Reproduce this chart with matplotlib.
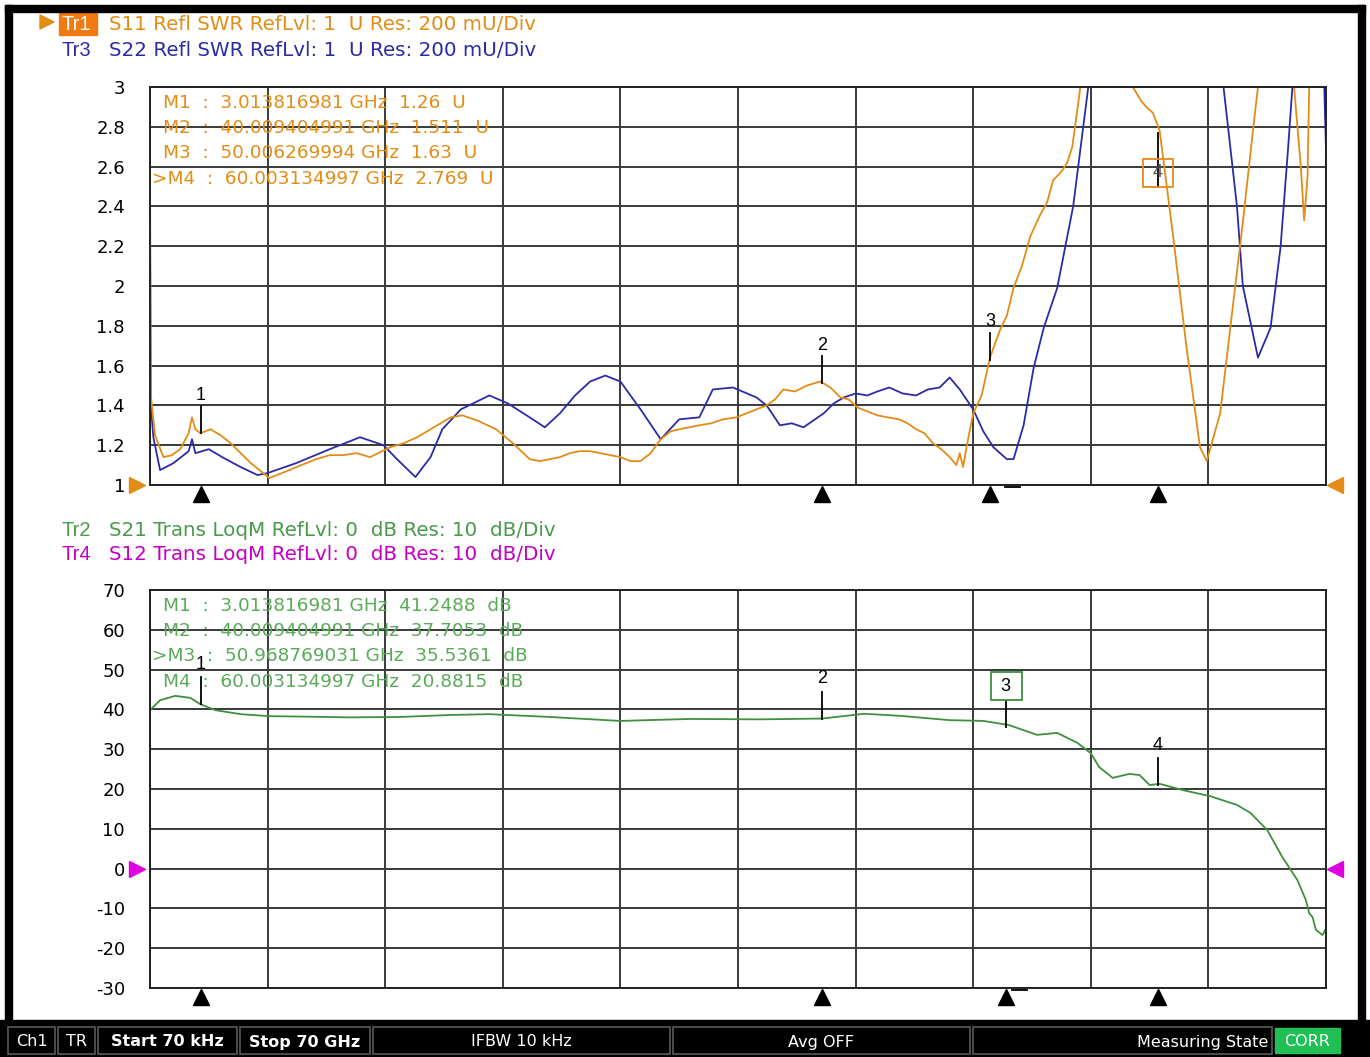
import matplotlib
matplotlib.use('Agg')
import matplotlib.pyplot as plt
from matplotlib.patches import Rectangle, Polygon

s11_freq = [0.0, 0.05, 0.3, 0.8, 1.3, 1.8, 2.3, 2.5, 2.7, 3.0, 3.6, 4.2, 4.8, 5.4, 6.0, 7.1, 8.3,
            9.0, 9.9, 10.7, 11.5, 12.3, 13.1, 14.3, 15.1, 15.9, 16.9, 17.9, 18.6, 19.6, 20.6,
            21.6, 22.6, 23.2, 23.8, 24.4, 25.0, 25.6, 26.2, 26.8, 27.4, 28.0, 28.6, 29.2, 29.8,
            30.4, 31.0, 31.5, 32.1, 32.7, 33.4, 34.1, 34.9, 35.8, 36.7, 37.2, 37.7, 38.4, 39.1,
            39.9, 40.5, 41.1, 41.6, 42.1, 42.7, 43.3, 43.9, 44.6, 45.1, 45.6, 46.1, 46.6, 47.1,
            47.6, 48.0, 48.2, 48.4, 48.6, 49.0, 49.5, 50.0, 50.6, 51.0, 51.4, 51.9, 52.4, 53.0,
            53.4, 53.75, 54.3, 54.6, 54.9, 55.35, 55.6, 57.0, 58.3, 58.5, 59.0, 59.3, 59.7, 60.1,
            60.9, 61.7, 62.5, 62.9, 63.0, 63.7, 64.5, 65.05, 65.65, 65.95, 66.3, 67.8, 68.2,
            68.5, 68.7, 68.9, 69.0, 69.2]
s11_swr = [2.6, 1.45, 1.25, 1.14, 1.15, 1.18, 1.26, 1.34, 1.28, 1.26, 1.28, 1.25, 1.21, 1.16,
           1.11, 1.035, 1.075, 1.10, 1.13, 1.15, 1.15, 1.16, 1.14, 1.19, 1.21, 1.24, 1.29, 1.34,
           1.35, 1.32, 1.28, 1.21, 1.13, 1.12, 1.13, 1.14, 1.16, 1.17, 1.17, 1.16, 1.15, 1.14,
           1.12, 1.12, 1.16, 1.23, 1.27, 1.28, 1.29, 1.30, 1.31, 1.33, 1.34, 1.37, 1.40, 1.43,
           1.48, 1.47, 1.50, 1.52, 1.49, 1.44, 1.43, 1.39, 1.37, 1.35, 1.34, 1.33, 1.31, 1.28,
           1.26, 1.21, 1.18, 1.14, 1.10, 1.16, 1.09, 1.19, 1.36, 1.45, 1.64, 1.78, 1.85, 1.99,
           2.10, 2.25, 2.36, 2.42, 2.53, 2.58, 2.62, 2.70, 2.98, 3.3, 3.5, 3.3, 3.0, 2.93, 2.90,
           2.87, 2.78, 2.25, 1.69, 1.19, 1.12, 1.15, 1.36, 1.93, 2.32, 2.78, 3.0, 3.3, 3.3, 2.9,
           2.6, 2.33, 2.55, 3.0, 3.3]

s22_freq = [0.0, 0.05, 0.2, 0.6, 1.4, 2.3, 2.5, 2.7, 3.5, 4.3, 5.4, 6.4, 7.0, 8.7, 10.7, 12.5,
            13.9, 14.7, 15.8, 16.7, 17.4, 18.5, 20.2, 21.3, 22.6, 23.5, 24.4, 25.3, 26.2, 27.1,
            28.0, 29.2, 30.4, 31.5, 32.7, 33.5, 34.7, 36.1, 36.7, 37.5, 38.2, 38.9, 40.1, 40.7,
            41.3, 42.0, 42.7, 43.3, 44.0, 44.8, 45.6, 46.3, 47.0, 47.6, 48.2, 49.0, 49.6, 50.2,
            51.0, 51.4, 52.0, 52.6, 53.2, 54.0, 54.95, 55.85, 56.3, 63.5, 63.9, 64.7, 65.05,
            65.95, 66.7, 67.3, 67.75, 68.0, 68.4, 69.8, 70.0]
s22_swr = [2.3, 1.4, 1.24, 1.075, 1.11, 1.17, 1.23, 1.16, 1.18, 1.14, 1.09, 1.05, 1.06, 1.11,
           1.18, 1.24, 1.20, 1.13, 1.04, 1.14, 1.28, 1.38, 1.45, 1.41, 1.34, 1.29, 1.36, 1.45,
           1.52, 1.55, 1.52, 1.38, 1.23, 1.33, 1.34, 1.48, 1.49, 1.44, 1.40, 1.30, 1.31, 1.29,
           1.36, 1.41, 1.44, 1.46, 1.45, 1.47, 1.49, 1.46, 1.45, 1.48, 1.49, 1.54, 1.48, 1.38,
           1.27, 1.19, 1.13, 1.13, 1.30, 1.59, 1.79, 1.99, 2.40, 3.0, 3.3, 3.3, 3.0, 2.4, 2.0,
           1.64, 1.79, 2.2, 2.70, 3.0, 3.3, 3.3, 2.68]

s21_freq = [0.0, 0.6, 1.5, 2.4, 3.0, 3.9, 5.4, 7.1, 8.9, 11.9, 14.9, 17.9, 20.2, 23.8, 28.0,
            32.1, 36.3, 40.0, 42.5, 44.6, 47.6, 49.6, 51.1, 52.8, 54.0, 55.2, 56.0, 56.5, 57.3,
            58.3, 58.9, 59.5, 60.1, 61.5, 63.1, 64.7, 65.5, 66.5, 67.4, 68.3, 68.8, 69.0, 69.2,
            69.4, 69.8, 70.0]
s21_db = [39.8, 42.3, 43.4, 42.9, 41.3, 39.8, 38.8, 38.3, 38.2, 38.0, 38.1, 38.6, 38.8, 38.1,
          37.1, 37.6, 37.5, 37.7, 38.9, 38.4, 37.3, 37.1, 36.1, 33.6, 34.1, 31.6, 29.0, 25.5,
          22.8, 23.8, 23.5, 21.0, 21.3, 19.7, 18.2, 16.0, 14.0, 9.7, 2.9, -2.9, -7.9, -11.2,
          -12.2, -15.4, -16.7, -15.0]

# marqueurs (lectures affichees)
mk_freq_top = [3.013816981, 40.009404991, 50.006269994, 60.003134997]
mk_val_top = [1.26, 1.511, 1.63, 2.769]
mk_freq_bot = [3.013816981, 40.009404991, 50.968769031, 60.003134997]
mk_val_bot = [41.2488, 37.7053, 35.5361, 20.8815]

swr_ticks = [1, 1.2, 1.4, 1.6, 1.8, 2, 2.2, 2.4, 2.6, 2.8, 3]
db_ticks = [-30, -20, -10, 0, 10, 20, 30, 40, 50, 60, 70]

W, H = 1370, 1057
ORANGE = '#E38C16'
BLUE = '#2B2BA6'
GREEN = '#3F8F3F'
GREEN_TXT = '#5AAA5A'
MAGENTA = '#C400C4'
FONT = 'Liberation Sans'
NUMFONT = 'DejaVu Sans'


def fbox(x0, y0, x1, y1):
    return [x0 / W, 1 - y1 / H, (x1 - x0) / W, (y1 - y0) / H]


fig = plt.figure(figsize=(W / 100, H / 100), dpi=100)
fig.patch.set_facecolor('white')

# calque en pixels pour le cadre, les en-tetes et la barre d'etat
ov = fig.add_axes([0, 0, 1, 1], zorder=5)
ov.set_xlim(0, W)
ov.set_ylim(H, 0)
ov.axis('off')


def setup(ax, ymin, ymax, ticks):
    ax.set_xlim(0, 70)
    ax.set_ylim(ymin, ymax)
    ax.set_xticks([i * 7 for i in range(11)])
    ax.set_yticks(ticks)
    ax.set_xticklabels([])
    ax.set_yticklabels([('%g' % t) for t in ticks], fontsize=13, family=NUMFONT)
    ax.tick_params(length=0, pad=18)
    ax.grid(True, color='#3a3a3a', lw=1.4)
    for s in ax.spines.values():
        s.set_color('#222222')
        s.set_linewidth(1.4)


def ref_arrows(ax, frac, color):
    ax.plot([-0.011], [frac], transform=ax.transAxes, ls='none', marker='>', ms=11,
            color=color, clip_on=False)
    ax.plot([1.008], [frac], transform=ax.transAxes, ls='none', marker='<', ms=11,
            color=color, clip_on=False)


# ---------- panneau SWR ----------
ax1 = fig.add_axes(fbox(150, 87, 1326, 485))
setup(ax1, 1, 3, swr_ticks)
ax1.plot(s22_freq, s22_swr, color=BLUE, lw=1.3)
ax1.plot(s11_freq, s11_swr, color=ORANGE, lw=1.3)
ref_arrows(ax1, 0, ORANGE)
ax1.plot(mk_freq_top, [-0.022] * 4, transform=ax1.get_xaxis_transform(), ls='none',
         marker='^', ms=11, color='black', clip_on=False)
u1 = 2.0 / 398  # unites SWR par pixel
for i, (f, v) in enumerate(zip(mk_freq_top, mk_val_top)):
    if i < 3:
        ax1.plot([f, f], [v, v + 27 * u1], color='black', lw=1.3)
        ax1.text(f, v + 38 * u1, str(i + 1), ha='center', va='center', fontsize=13,
                 family=FONT)
    else:
        ax1.plot([f, f], [v, v - 54 * u1], color='black', lw=1.3)
        ax1.text(f, v - 40 * u1, ' %d ' % (i + 1), ha='center', va='center', fontsize=13,
                 family=FONT, color='#555555',
                 bbox=dict(boxstyle='square,pad=0.3', fc='none', ec=ORANGE, lw=1.3))
ax1.plot([50.9, 51.8], [-0.006, -0.006], transform=ax1.get_xaxis_transform(),
         color='black', lw=1.3, clip_on=False)

# lecture des marqueurs
prefix_top = ['M1', 'M2', 'M3', '>M4']
for i, (f, v) in enumerate(zip(mk_freq_top, mk_val_top)):
    ax1.text(0.002 if i == 3 else 0.011, 0.96 - i * 0.0635,
             '%s  :  %.9f GHz  %g  U' % (prefix_top[i], f, v),
             transform=ax1.transAxes, color=ORANGE, fontsize=13.3, family=NUMFONT,
             va='center')

# ---------- panneau transmission ----------
ax2 = fig.add_axes(fbox(150, 590, 1326, 988))
setup(ax2, -30, 70, db_ticks)
ax2.plot(s21_freq, s21_db, color=GREEN, lw=1.3)
ref_arrows(ax2, 0.3, '#E000E0')
ax2.plot(mk_freq_bot, [-0.022] * 4, transform=ax2.get_xaxis_transform(), ls='none',
         marker='^', ms=11, color='black', clip_on=False)
u2 = 100.0 / 398
for i, (f, v) in enumerate(zip(mk_freq_bot, mk_val_bot)):
    ax2.plot([f, f], [v, v + 27 * u2], color='black', lw=1.3)
    if i == 2:
        ax2.text(f, v + 41 * u2, ' %d ' % (i + 1), ha='center', va='center', fontsize=13,
                 family=FONT,
                 bbox=dict(boxstyle='square,pad=0.3', fc='white', ec=GREEN, lw=1.3))
    else:
        ax2.text(f, v + 40 * u2, str(i + 1), ha='center', va='center', fontsize=13,
                 family=FONT)
ax2.plot([51.3, 52.2], [-0.006, -0.006], transform=ax2.get_xaxis_transform(),
         color='black', lw=1.3, clip_on=False)

prefix_bot = ['M1', 'M2', '>M3', 'M4']
for i, (f, v) in enumerate(zip(mk_freq_bot, mk_val_bot)):
    ax2.text(0.002 if i == 2 else 0.011, 0.96 - i * 0.0635,
             '%s  :  %.9f GHz  %.4f  dB' % (prefix_bot[i], f, v),
             transform=ax2.transAxes, color=GREEN_TXT, fontsize=13.3, family=NUMFONT,
             va='center')

# ---------- en-tetes ----------
ov.add_patch(Polygon([[40, 15], [40, 29], [54, 22]], closed=True, color=ORANGE))
ov.add_patch(Rectangle((59, 13), 38, 22, color='#F07A10'))
headers = [(25, 'Tr1', 'S11 Refl SWR RefLvl: 1  U Res: 200 mU/Div', ORANGE),
           (51, 'Tr3', 'S22 Refl SWR RefLvl: 1  U Res: 200 mU/Div', BLUE),
           (530, 'Tr2', 'S21 Trans LoqM RefLvl: 0  dB Res: 10  dB/Div', '#4A9A4A'),
           (555, 'Tr4', 'S12 Trans LoqM RefLvl: 0  dB Res: 10  dB/Div', MAGENTA)]
for y, tr, txt, col in headers:
    ov.text(62, y, tr, color='white' if tr == 'Tr1' else col, fontsize=14.5, family=FONT,
            va='center')
    ov.text(109, y, txt, color=col, fontsize=14.3, family=NUMFONT, va='center')

# ---------- cadre ----------
ov.add_patch(Rectangle((5, 5), 1360, 7, color='black'))
ov.add_patch(Rectangle((5, 5), 7, 1020, color='black'))
ov.add_patch(Rectangle((1358, 5), 7, 1020, color='black'))

# ---------- barre d'etat ----------
ov.add_patch(Rectangle((0, 1020), W, H - 1020, color='black'))
cells = [(8, 55, 'Ch1', 'center', False), (58, 95, 'TR', 'center', False),
         (98, 237, 'Start 70 kHz', 'center', True), (240, 370, 'Stop 70 GHz', 'center', True),
         (373, 670, 'IFBW 10 kHz', 'center', False), (673, 970, 'Avg OFF', 'center', False),
         (973, 1272, 'Measuring State', 'right', False)]
for x0, x1, label, ha, bold in cells:
    ov.add_patch(Rectangle((x0, 1027), x1 - x0, 27, fc='black', ec='#5a5a5a', lw=1.2))
    tx = (x0 + x1) / 2 if ha == 'center' else x1 - 4
    ov.text(tx, 1042, label, color='white', fontsize=11.5, ha=ha, va='center',
            family='DejaVu Sans', fontweight='bold' if bold else 'normal')
ov.add_patch(Rectangle((1275, 1028), 65, 25, color='#1FBF55'))
ov.text(1307, 1042, 'CORR', color='white', fontsize=11.5, ha='center', va='center',
        family='DejaVu Sans')

fig.savefig('out.png', dpi=100)
plt.close(fig)
